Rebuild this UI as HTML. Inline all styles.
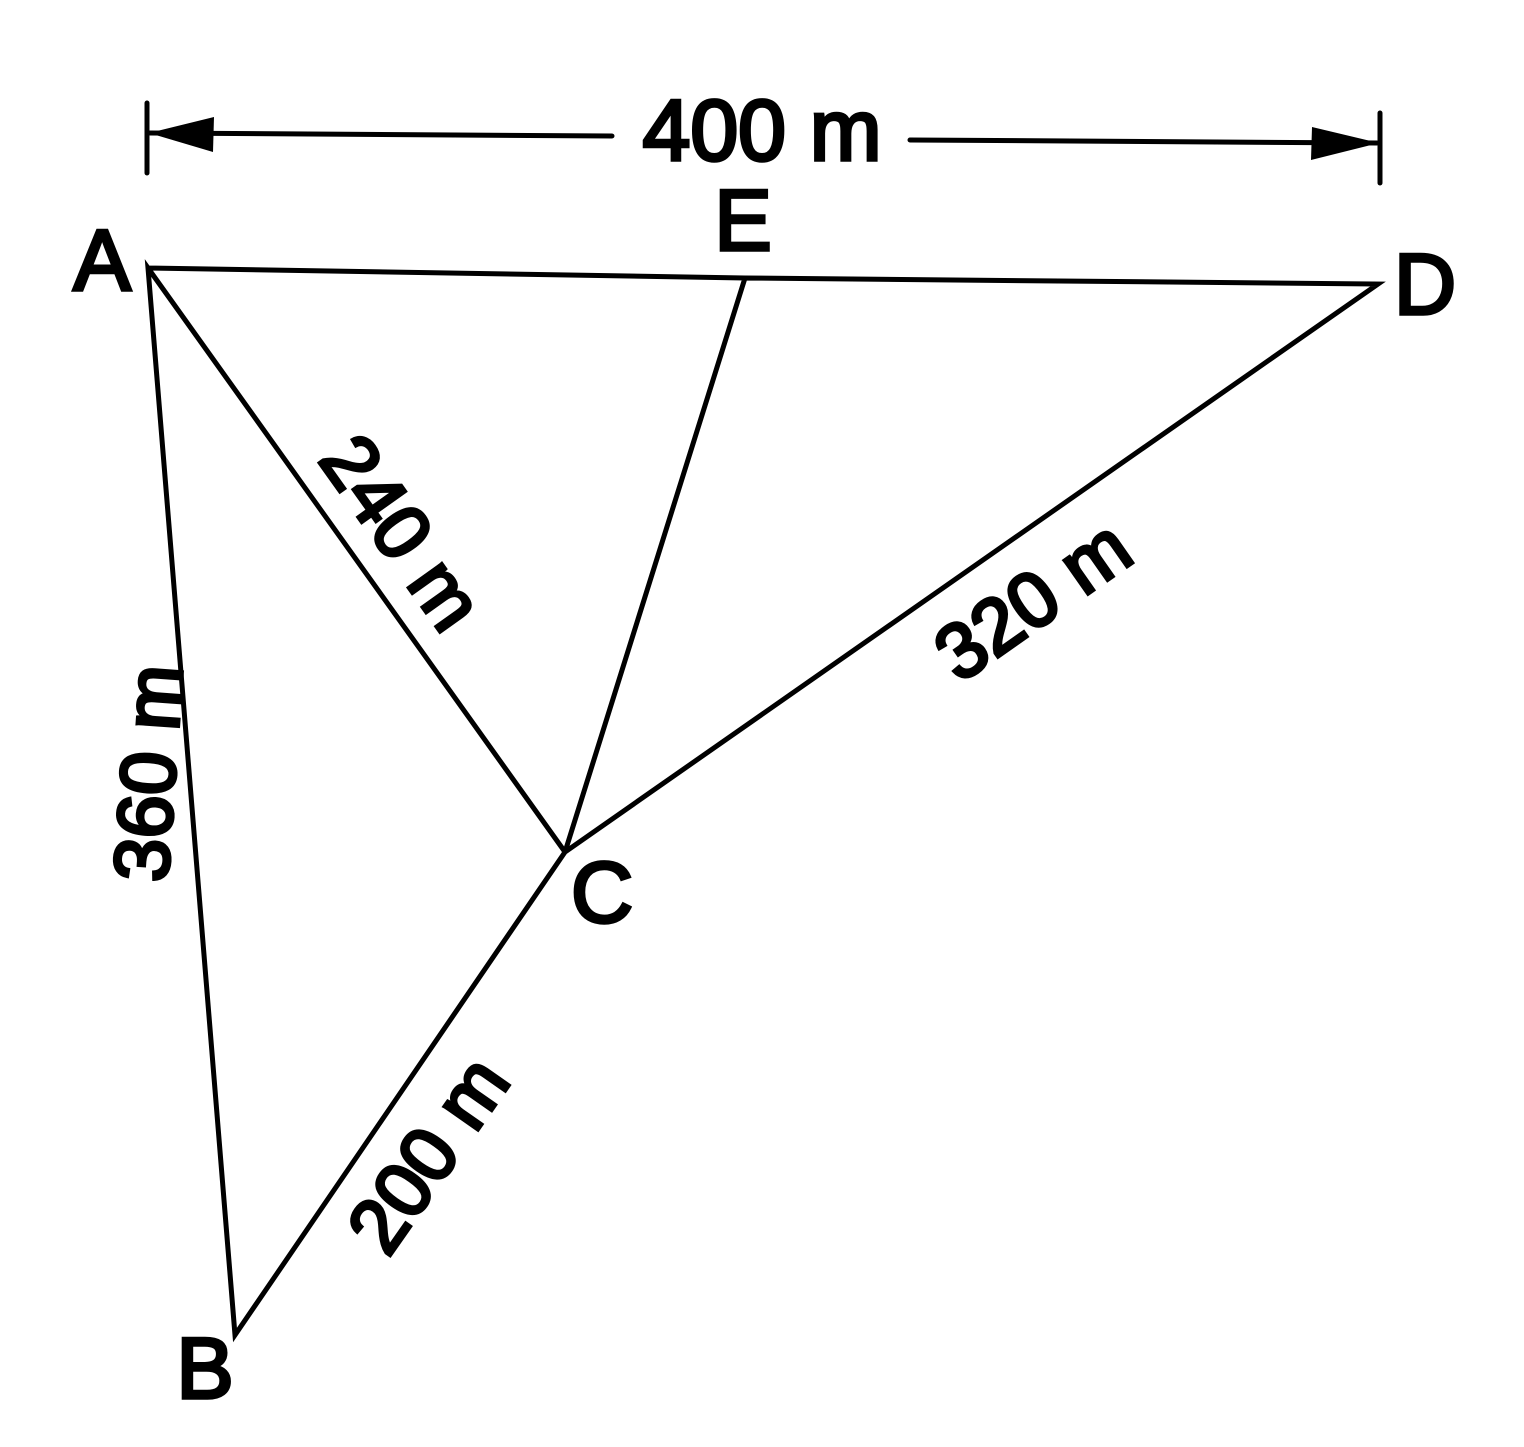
<!DOCTYPE html>
<html><head><style>html,body{margin:0;padding:0;background:#fff}</style></head>
<body>
<svg width="1524" height="1442" viewBox="0 0 1524 1442" xmlns="http://www.w3.org/2000/svg">
<g stroke="#000" stroke-width="5" fill="none" stroke-linecap="round">
<line x1="147" y1="103" x2="147" y2="173"/>
<line x1="1380" y1="113" x2="1380" y2="183"/>
<line x1="150" y1="133" x2="612" y2="136"/>
<line x1="910" y1="140" x2="1377" y2="143"/>
<polyline points="148,268 745,278 1378,284 565,852 148,268 235,1335 565,852 745,278"/>
</g>
<polygon points="149,133 214,117 213,152" fill="#000"/>
<polygon points="1379,143 1312,127 1311,160" fill="#000"/>
<g font-family="Liberation Sans, sans-serif" fill="#000" stroke="#000" stroke-width="3.5" font-size="86" text-anchor="middle">
<text x="762" y="160">400 m</text>
<text x="102" y="290">A</text>
<text x="743" y="250">E</text>
<text x="1425" y="314">D</text>
<text x="602" y="922">C</text>
<text x="205" y="1398">B</text>
</g>
<g font-family="Liberation Sans, sans-serif" fill="#000" stroke="#000" stroke-width="3.5" font-size="78" text-anchor="middle">
<text transform="translate(380,548) rotate(54.5)">240 m</text>
<text transform="translate(1048,622) rotate(-35)">320 m</text>
<text transform="translate(175,775) rotate(-86)">360 m</text>
<text transform="translate(450,1170) rotate(-55)">200 m</text>
</g>
</svg>
</body></html>
